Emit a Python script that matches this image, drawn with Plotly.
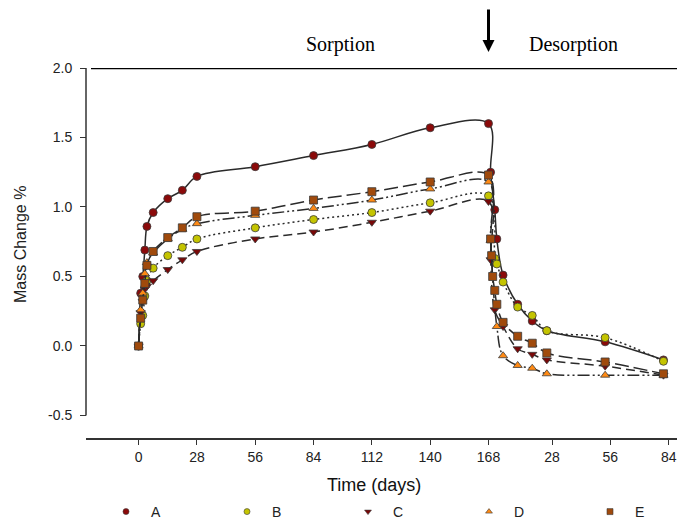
import plotly.graph_objects as go

# ---- data -------------------------------------------------------------
SORPTION_END = 168          # desorption days are counted from here
DES_TICK_SHIFT = 2.5        # desorption tick marks sit slightly right of the day grid

SORP_DAYS = [0, 1, 2, 3, 4, 7, 14, 21, 28, 56, 84, 112, 140, 168]
A_SORP = [0, 0.38, 0.50, 0.69, 0.86, 0.96, 1.06, 1.12, 1.22, 1.29, 1.37, 1.45, 1.57, 1.60]
B_SORP = [0, 0.16, 0.22, 0.36, 0.47, 0.56, 0.65, 0.71, 0.77, 0.85, 0.91, 0.96, 1.03, 1.08]
C_SORP = [0, 0.24, 0.32, 0.41, 0.43, 0.47, 0.55, 0.62, 0.68, 0.77, 0.82, 0.89, 0.97, 1.04]
D_SORP = [0, 0.26, 0.38, 0.52, 0.60, 0.67, 0.77, 0.84, 0.88, 0.94, 0.99, 1.05, 1.13, 1.18]
E_SORP = [0, 0.20, 0.33, 0.45, 0.58, 0.68, 0.78, 0.85, 0.93, 0.97, 1.05, 1.11, 1.18, 1.23]

A_DES_DAYS = [1, 3, 4, 7, 14, 21, 28, 56, 84]
A_DES = [1.25, 0.98, 0.77, 0.51, 0.30, 0.18, 0.11, 0.03, -0.10]
B_DES_DAYS = [3, 4, 7, 14, 21, 28, 56, 84]
B_DES = [0.63, 0.59, 0.46, 0.28, 0.22, 0.11, 0.06, -0.11]
C_DES_DAYS = [1, 3, 7, 14, 21, 28, 56, 84]
C_DES = [0.62, 0.26, 0.14, -0.02, -0.06, -0.10, -0.145, -0.21]
D_DES_DAYS = [1, 4, 7, 14, 21, 28, 56, 84]
D_DES = [0.76, 0.14, -0.07, -0.14, -0.16, -0.20, -0.21, -0.21]
E_DES_DAYS = [1, 1.5, 2, 3, 4, 7, 14, 21, 28, 56, 84]
E_DES = [0.77, 0.65, 0.50, 0.40, 0.30, 0.17, 0.07, 0.02, -0.05, -0.115, -0.20]

SORP_TICKS = [0, 28, 56, 84, 112, 140, 168]
DES_TICKS = [28, 56, 84]
Y_TICKS = [-0.5, 0.0, 0.5, 1.0, 1.5, 2.0]

SERIES = [
    # name, sorption, desorption days, desorption values, symbol, colour, dash
    ("A", A_SORP, A_DES_DAYS, A_DES, "circle", "#8b0a0a", "solid"),
    ("B", B_SORP, B_DES_DAYS, B_DES, "circle", "#c4c400", "2px,3px"),
    ("C", C_SORP, C_DES_DAYS, C_DES, "triangle-down", "#780808", "9px,5px"),
    ("D", D_SORP, D_DES_DAYS, D_DES, "triangle-up", "#ff8a14", "12px,3px,2px,3px,2px,3px"),
    ("E", E_SORP, E_DES_DAYS, E_DES, "square", "#a04a0c", "14px,5px"),
]

SANS = "Liberation Sans, Arial, sans-serif"
SERIF = "Liberation Serif, Times New Roman, serif"

# page geometry (px): the plotting area starts left of the y axis so the
# one-row legend underneath has room for all five entries
W, H = 677, 521
M_L, M_T, M_B = 40, 68, 83
AXIS_X = 86
GW = W - M_L


def px_x(p):
    """Horizontal page pixel -> paper fraction."""
    return (p - M_L) / GW


def px_y(p):
    """Vertical page pixel -> paper fraction."""
    return (H - M_B - p) / (H - M_T - M_B)


fig = go.Figure()

for name, sorp, des_days, des, symbol, colour, dash in SERIES:
    xs = list(SORP_DAYS) + [SORPTION_END + d for d in des_days]
    ys = list(sorp) + list(des)
    fig.add_trace(go.Scatter(
        x=xs, y=ys, mode="lines+markers", name=name, showlegend=False,
        line=dict(color="#2a2a2a", width=1.5, dash=dash, shape="spline", smoothing=1.0),
        marker=dict(symbol=symbol, size=8, color=colour,
                    line=dict(color="#3a3a3a", width=0.8)),
    ))

# marker-only legend entries
for name, _, _, _, symbol, colour, _ in SERIES:
    fig.add_trace(go.Scatter(
        x=[None], y=[None], mode="markers", name=name,
        marker=dict(symbol=symbol, size=6, color=colour,
                    line=dict(color="#3a3a3a", width=0.6)),
    ))

tickvals = SORP_TICKS + [SORPTION_END + DES_TICK_SHIFT + d for d in DES_TICKS]
ticktext = [str(t) for t in SORP_TICKS] + [str(t) for t in DES_TICKS]

fig.update_layout(
    width=W, height=H,
    margin=dict(l=M_L, r=0, t=M_T, b=M_B, autoexpand=False),
    paper_bgcolor="white", plot_bgcolor="white",
    font=dict(family=SANS, size=14, color="#222"),
    xaxis=dict(
        domain=[px_x(AXIS_X), 1],
        range=[-25.25, 258.5], showgrid=False, zeroline=False,
        showline=True, linecolor="#333", linewidth=1.5,
        tickmode="array", tickvals=tickvals, ticktext=ticktext,
        ticks="outside", ticklen=5, tickwidth=1.3, tickcolor="#333",
        ticklabelstandoff=0,
        tickfont=dict(family=SANS, size=14, color="#222"),
    ),
    yaxis=dict(
        anchor="free", position=px_x(AXIS_X),
        range=[-0.662, 2.0], showgrid=False, zeroline=False, showline=False,
        tickmode="array", tickvals=Y_TICKS, ticktext=[f"{v:.1f}" for v in Y_TICKS],
        ticks="outside", ticklen=6, tickwidth=1.3, tickcolor="#333",
        ticklabelstandoff=5,
        tickfont=dict(family=SANS, size=14, color="#222"),
    ),
    legend=dict(
        orientation="h", x=px_x(101), y=px_y(512), xanchor="left", yanchor="middle",
        entrywidth=66, entrywidthmode="pixels", itemwidth=40,
        font=dict(family=SANS, size=14, color="#222"),
        bgcolor="rgba(0,0,0,0)",
    ),
    shapes=[
        # left axis line stops at the -0.5 tick
        dict(type="line", xref="paper", yref="y", x0=px_x(AXIS_X), x1=px_x(AXIS_X),
             y0=-0.5, y1=2.0, line=dict(color="#333", width=1.5)),
        # heavy rule along the top of the sorption/desorption panel
        dict(type="line", xref="paper", yref="y", x0=px_x(91), x1=1, y0=2.0, y1=2.0,
             line=dict(color="black", width=2.5)),
    ],
    annotations=[
        dict(text="Sorption", xref="paper", yref="paper", x=px_x(340), y=px_y(44),
             xanchor="center", yanchor="middle", showarrow=False,
             font=dict(family=SERIF, size=20, color="black")),
        dict(text="Desorption", xref="paper", yref="paper", x=px_x(573), y=px_y(44),
             xanchor="center", yanchor="middle", showarrow=False,
             font=dict(family=SERIF, size=20, color="black")),
        dict(text="", xref="x", yref="paper", x=SORPTION_END, y=px_y(52),
             ax=0, ay=-44, showarrow=True, arrowhead=2, arrowsize=0.8,
             arrowwidth=3, arrowcolor="black"),
        dict(text="Time (days)", xref="paper", yref="paper", x=px_x(374),
             y=px_y(485), xanchor="center", yanchor="middle", showarrow=False,
             font=dict(family=SANS, size=18, color="#111")),
        dict(text="Mass Change %", xref="paper", yref="paper", x=px_x(20),
             y=px_y(245), xanchor="center", yanchor="middle", textangle=-90,
             showarrow=False, font=dict(family=SANS, size=16, color="#222")),
    ],
)

fig.write_html("out.html")
